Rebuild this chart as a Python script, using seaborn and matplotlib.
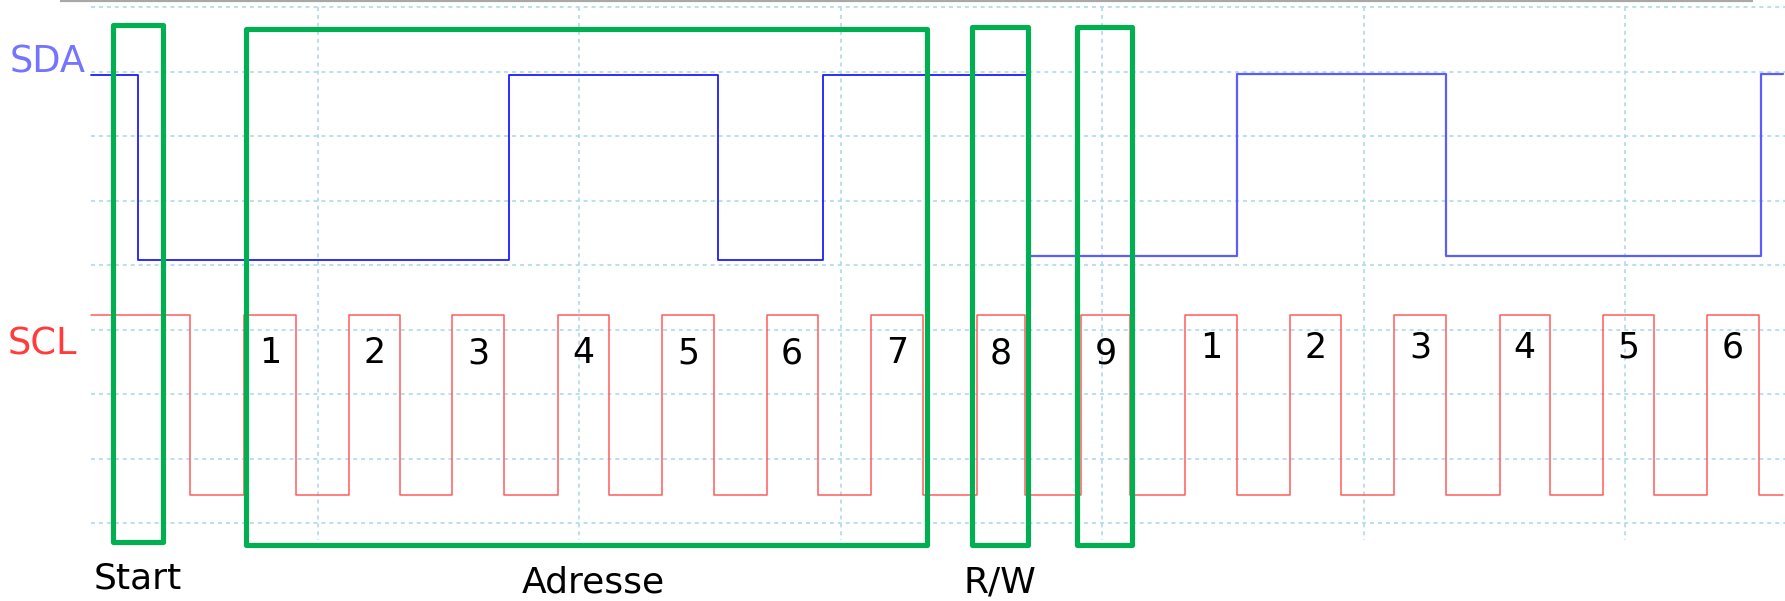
import numpy as np
import pandas as pd
import matplotlib
matplotlib.use("Agg")
import matplotlib.pyplot as plt
from matplotlib.patches import Rectangle
import seaborn as sns

# ---------------- data (time in µs, 25 µs per grid division; level in grid divisions from top)
t_first, t_last = -21.7, 140.1
scl_rise = [-7.1, 3.0, 12.8, 23.0, 32.9, 42.9, 52.9, 63.0, 73.0,
            82.9, 93.0, 102.9, 113.0, 122.9, 132.8]
scl_fall = [-12.2, -2.1, 7.8, 17.8, 27.8, 37.9, 47.8, 57.9, 67.6, 77.7,
            87.9, 97.8, 107.9, 117.8, 127.8, 137.8]
scl_high, scl_low = 4.78, 7.57

sda_a_t = [-21.7, -17.2, 18.3, 38.3, 48.3, 67.9]
sda_a_level = [1.05, 3.92, 1.05, 3.92, 1.05, 1.05]
sda_b_t = [67.9, 67.9, 87.9, 107.9, 138.0, 140.1]
sda_b_level = [1.05, 3.86, 1.04, 3.86, 1.04, 1.04]

bit_labels = ["1", "2", "3", "4", "5", "6", "7", "8", "9", "1", "2", "3", "4", "5", "6"]
bit_label_base = [5.52] * 9 + [5.44] * 6

# annotation boxes: (label, t0, t1, top, bottom)
box_names = ["Start", "Adresse", "R/W", "ACK"]
box_t0 = [-19.6, -6.89, 62.55, 72.6]
box_t1 = [-14.8, 58.24, 67.9, 77.85]
box_top = [0.28, 0.34, 0.31, 0.31]
box_bottom = [8.29, 8.34, 8.34, 8.34]

bottom_texts = ["Start", "Adresse", "R/W"]
bottom_x = [-21.5, 26.3, 65.2]
bottom_ha = ["left", "center", "center"]
bottom_base = [9.01, 9.085, 9.07]

grid_t = [0, 25, 50, 75, 100, 125]
grid_d = [0, 1, 2, 3, 4, 5, 6, 7, 8]

# ---------------- build SCL step sequence
edges = sorted([(t, scl_low) for t in scl_fall] + [(t, scl_high) for t in scl_rise])
scl_t = [t_first] + [e[0] for e in edges] + [t_last]
scl_level = [scl_high] + [e[1] for e in edges] + [scl_low]
scl_df = pd.DataFrame({"t": scl_t, "level": scl_level})
sda_a_df = pd.DataFrame({"t": sda_a_t, "level": sda_a_level})
sda_b_df = pd.DataFrame({"t": sda_b_t, "level": sda_b_level})

# ---------------- figure
sns.set_theme(style="white")
plt.rcParams["font.family"] = ["DejaVu Sans"]
W, H, DPI = 1785, 601, 100
fig = plt.figure(figsize=(W / DPI, H / DPI), dpi=DPI)
ax = fig.add_axes([0, 0, 1, 1])
px_per_us = 10.456
x0_px = 318
px_per_div = 64.5
y0_px = 7
ax.set_xlim((0 - x0_px) / px_per_us, (W - x0_px) / px_per_us)
ax.set_ylim((H - y0_px) / px_per_div, (0 - y0_px) / px_per_div)
ax.axis("off")

grid_col = "#b5dcec"
for g in grid_d:
    ax.plot([t_first, 150], [g, g], color=grid_col, lw=1.3, ls=(0, (2.2, 2.2)), zorder=1)
for g in grid_t:
    ax.plot([g, g], [0, 8.26], color=grid_col, lw=1.3, ls=(0, (2.2, 2.2)), zorder=1)

# top frame line
ax.plot([-24.7, 137.2], [-0.093, -0.093], color="#a8a8a8", lw=1.6, zorder=1,
        solid_capstyle="butt")

sns.lineplot(data=scl_df, x="t", y="level", ax=ax, sort=False, estimator=None,
             drawstyle="steps-post", color="#ff5b5b", lw=1.1, zorder=3)
sns.lineplot(data=sda_a_df, x="t", y="level", ax=ax, sort=False, estimator=None,
             drawstyle="steps-post", color="#1c1cff", lw=1.3, zorder=3)
sns.lineplot(data=sda_b_df, x="t", y="level", ax=ax, sort=False, estimator=None,
             drawstyle="steps-post", color="#5c5cff", lw=1.6, zorder=3)
ax.set_xlim((0 - x0_px) / px_per_us, (W - x0_px) / px_per_us)
ax.set_ylim((H - y0_px) / px_per_div, (0 - y0_px) / px_per_div)
ax.axis("off")

# bit number labels at the centre of each labelled clock-high pulse
for i, lab in enumerate(bit_labels):
    r = scl_rise[i]
    f = min(x for x in scl_fall if x > r)
    ax.text((r + f) / 2, bit_label_base[i], lab, ha="center", va="baseline",
            fontsize=25, color="black", zorder=5)

# channel labels
ax.text(-29.46, 1.008, "SDA", ha="left", va="baseline", fontsize=26.5, color="#7474ff")
ax.text(-29.65, 5.38, "SCL", ha="left", va="baseline", fontsize=26.5, color="#ff3b3b")

# green boxes
for t0, t1, top, bot in zip(box_t0, box_t1, box_top, box_bottom):
    ax.add_patch(Rectangle((t0, top), t1 - t0, bot - top, fill=False,
                           edgecolor="#00b050", lw=3.7, joinstyle="round", zorder=4))

for txt, x, ha, b in zip(bottom_texts, bottom_x, bottom_ha, bottom_base):
    ax.text(x, b, txt, ha=ha, va="baseline", fontsize=26, color="black")

fig.savefig("out.png", dpi=DPI, facecolor="white")
